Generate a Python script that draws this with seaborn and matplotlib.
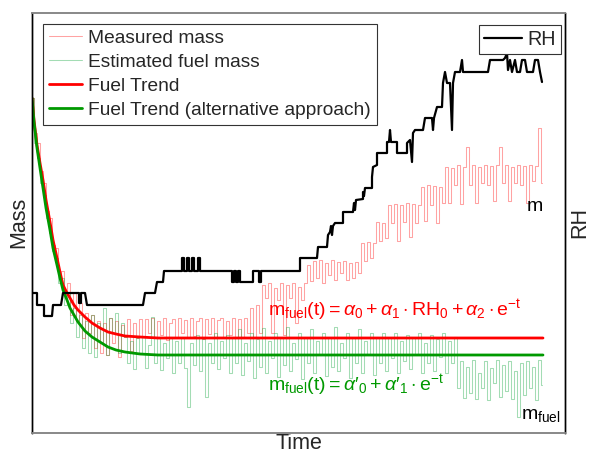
import numpy as np
import pandas as pd
import matplotlib
matplotlib.use("Agg")
import matplotlib.pyplot as plt
import seaborn as sns

# ---------------- data (arbitrary units) ----------------
measured_mass = [335, 300, 290, 262, 250, 222, 215, 188, 185, 160, 162, 138, 150, 118, 140, 112, 130, 95, 120, 100,
                 118, 85, 112, 80, 110, 78, 115, 90, 112, 76, 108, 96, 114, 82, 110, 95, 114,
                 96, 114, 100, 115, 95, 112, 98, 115, 93, 110, 114, 96, 115, 100, 113, 95, 115, 97, 112, 115,
                 94, 114, 99, 115, 96, 113, 115, 95, 112, 98, 115, 96, 114, 95, 115, 100,
                 125, 96, 128, 100,
                 148, 135, 150, 100, 145, 133, 150, 98, 148, 135, 150, 110, 146, 133, 150,
                 168, 152, 172, 155, 173, 150, 170, 158, 173,
                 153, 171, 160, 172, 153, 170, 155, 171, 160,
                 190, 172, 191, 175, 190,
                 211, 192, 210, 195, 228,
                 210, 229, 192, 228, 211, 230, 196, 229, 210, 228,
                 246, 212, 248, 228, 247, 210, 246, 230,
                 266, 230, 265, 248, 268, 229, 266, 286, 248,
                 268, 230, 266, 250, 268, 248, 267, 232, 268, 286, 250, 268, 232, 266, 250, 268, 248, 267,
                 230, 268, 252, 267, 305, 250]

estimated_fuel_mass = [335, 290, 275, 250, 238, 215, 200, 182, 175, 150, 155, 128, 140, 110, 125, 96, 118, 85, 112, 80,
                       118, 76, 110, 90, 125, 78, 115, 100, 120, 80, 110,
                       96, 70, 92, 64, 95, 80, 96, 65, 88, 116, 70, 95, 63, 90, 75, 96, 60, 92, 70, 96, 65, 26,
                       90, 68, 98, 62, 94, 36, 90, 70, 100, 64, 92, 75,
                       98, 60, 95, 70, 104, 58, 90, 72, 100, 55, 94, 66, 105, 60, 92, 75, 100, 56, 95, 68, 106,
                       62, 90, 74, 100, 54, 95, 70, 104, 60, 92, 78, 100, 57, 96, 66, 106, 62, 90, 75, 100, 55,
                       95, 70, 104, 60, 92, 78, 100, 58, 96,
                       70, 100, 62, 95, 75, 100, 60, 92, 72, 98, 64, 95, 78, 100, 60, 90, 70, 98, 62, 94, 76,
                       100, 60, 92, 70, 96,
                       45, 72, 35, 66, 40, 73, 34, 60, 45, 72, 33, 65, 50, 73, 36, 68, 42, 72, 34, 62, 16, 70,
                       38, 72, 45, 66, 33, 73, 48]

trend_time = [0, 2, 5, 8, 11, 14, 18, 21, 25, 28, 31, 35, 38, 42, 46, 53, 60, 68, 76, 84, 93, 108, 126, 511]
fuel_trend = [335, 313, 288, 270, 253, 233, 211, 193, 175, 161, 148, 140, 135, 128, 123, 116, 110, 105, 101, 99,
              97, 96, 95, 95]
fuel_trend_alt = [335, 311, 285, 265, 245, 225, 203, 185, 168, 155, 143, 133, 125, 118, 111, 102, 96, 91, 86, 83,
                  81, 79, 78, 78]

rh_time = [0, 5, 5, 12, 12, 20, 21, 29, 31, 47, 47, 49, 49, 53, 55, 111, 113, 123, 125, 131, 132, 150,
           150, 152, 152, 155, 155, 157, 157, 160, 160, 162, 162, 166, 166, 168, 168,
           200, 200, 202, 202, 204, 204, 206, 206, 208, 208, 221, 221, 227, 227, 229, 229, 268, 268, 285,
           286, 295, 296, 298, 299, 300, 301, 303, 311, 311, 321, 322, 323, 324, 331, 331, 332, 333, 340,
           340, 341, 345, 345, 355, 355, 357, 358, 359, 365, 365, 375, 375, 378, 380, 381, 383, 391, 393,
           400, 401, 402, 405, 410, 411, 413, 415, 418, 420, 421, 423, 428, 430, 431, 456, 458, 471, 473,
           475, 476, 478, 480, 483, 485, 488, 490, 493, 495, 501, 503, 506, 508, 510]
rh = [140, 140, 128, 128, 117, 117, 128, 128, 140, 140, 130, 130, 140, 140, 128, 128, 140, 140, 151, 151, 162, 162,
      175, 175, 162, 162, 175, 175, 162, 162, 175, 175, 162, 162, 175, 175, 162,
      162, 151, 151, 162, 162, 151, 151, 162, 162, 151, 151, 162, 162, 151, 151, 162, 162, 175, 175,
      186, 186, 198, 201, 207, 198, 207, 210, 210, 221, 221, 230, 223, 233, 234, 241, 237, 245, 245,
      256, 266, 268, 280, 280, 291, 291, 303, 291, 291, 280, 280, 290, 293, 271, 300, 303, 303, 315,
      315, 303, 315, 326, 326, 350, 361, 350, 350, 303, 350, 361, 361, 373, 361, 361, 373, 373, 375,
      380, 363, 373, 361, 373, 361, 361, 373, 373, 361, 361, 373, 373, 361, 351]

sample_step = 3
t_series = np.arange(len(measured_mass)) * sample_step
df_noisy = pd.DataFrame({"t": t_series, "m": measured_mass, "mf": estimated_fuel_mass})
df_trend = pd.DataFrame({"t": trend_time, "red": fuel_trend, "green": fuel_trend_alt})
df_rh = pd.DataFrame({"t": rh_time, "rh": rh})

# ---------------- styling ----------------
sns.set_theme(style="white")
plt.rcParams["font.family"] = ["Liberation Sans", "DejaVu Sans"]
plt.rcParams["mathtext.fontset"] = "custom"
plt.rcParams["mathtext.rm"] = "Liberation Sans"
plt.rcParams["mathtext.it"] = "Liberation Sans:italic"
plt.rcParams["mathtext.sf"] = "Liberation Sans"

fig = plt.figure(figsize=(5.91, 4.57), dpi=100)
ax = fig.add_axes([32 / 591, (457 - 433) / 457, 533 / 591, 420.5 / 457])
ax2 = ax.twinx()

sns.lineplot(data=df_noisy, x="t", y="m", ax=ax, color="#ff0000", alpha=0.36, lw=0.75,
             drawstyle="steps-mid", label="Measured mass", estimator=None, sort=False)
sns.lineplot(data=df_noisy, x="t", y="mf", ax=ax, color="#00a030", alpha=0.36, lw=0.75,
             drawstyle="steps-mid", label="Estimated fuel mass", estimator=None, sort=False)
sns.lineplot(data=df_trend, x="t", y="red", ax=ax, color="#ff0000", lw=2.0,
             label="Fuel Trend", estimator=None, sort=False)
sns.lineplot(data=df_trend, x="t", y="green", ax=ax, color="#009900", lw=2.0,
             label="Fuel Trend (alternative approach)", estimator=None, sort=False)
sns.lineplot(data=df_rh, x="t", y="rh", ax=ax2, color="black", lw=1.6,
             label="RH", estimator=None, sort=False)

for a in (ax, ax2):
    a.set_xlim(0, 533)
    a.set_ylim(0, 420.5)
    a.set_xticks([])
    a.set_yticks([])
    for side in ("left", "right"):
        a.spines[side].set_color("black")
        a.spines[side].set_linewidth(1.0)
    for side in ("top", "bottom"):
        a.spines[side].set_color("#8a8a8a")
        a.spines[side].set_linewidth(1.3)

ax.set_xlabel("Time", fontsize=15.5, labelpad=0)
ax.set_ylabel("Mass", fontsize=15.5, labelpad=2)
ax2.set_ylabel("RH", fontsize=15.5, labelpad=3)

leg1 = ax.legend(loc="upper left", bbox_to_anchor=(11 / 533, (433 - 24) / 420.5), borderaxespad=0,
                 fontsize=13.8, frameon=True, fancybox=False, edgecolor="#333333", framealpha=1,
                 handlelength=1.75, handletextpad=0.3, labelspacing=0.34, borderpad=0.3)
leg1.get_frame().set_linewidth(0.8)
leg2 = ax2.legend(loc="upper right", bbox_to_anchor=((561 - 32) / 533, (433 - 25) / 420.5), borderaxespad=0,
                  fontsize=14.2, frameon=True, fancybox=False, edgecolor="#333333", framealpha=1,
                  handlelength=1.9, handletextpad=0.3, borderpad=0.25)
leg2.get_frame().set_linewidth(0.8)

ax2.text(236, 123, r"$\mathrm{m_{fuel}(t)} = \alpha_0 + \alpha_1\cdot\mathrm{RH_0} + \alpha_2\cdot\mathrm{e^{-t}}$",
         color="#ff0000", fontsize=14, ha="left", va="center")
ax2.text(236, 48, r"$\mathrm{m_{fuel}(t)} = \alpha\prime_0 + \alpha\prime_1\cdot\mathrm{e^{-t}}$",
         color="#009900", fontsize=14, ha="left", va="center")
ax2.text(503, 227, "m", color="black", fontsize=14, ha="center", va="center")
ax2.text(529, 18, r"$\mathrm{m_{fuel}}$", color="black", fontsize=14, ha="right", va="center")

fig.savefig("out.png", dpi=100)
